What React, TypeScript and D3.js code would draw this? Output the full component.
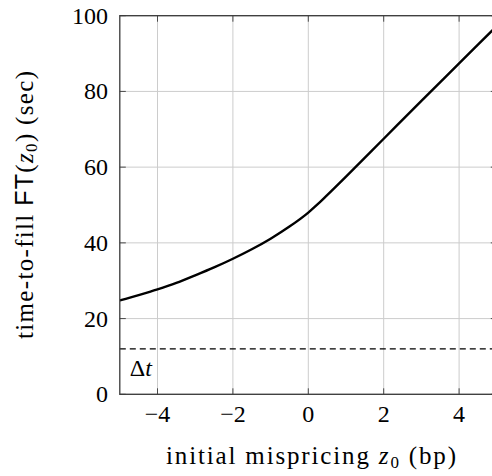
import React from "react";
import * as d3 from "d3";

const xValues = [-5, -4.5, -4, -3.5, -3, -2.5, -2, -1.5, -1, -0.5, 0, 0.25, 0.5, 1, 2, 3, 4, 5];
const ftValues = [24.8, 26.2, 27.7, 29.4, 31.4, 33.5, 35.8, 38.3, 41.1, 44.3, 48.0, 50.2, 52.6, 57.5, 67.5, 77.5, 87.4, 97.3];
const deltaT = 12;
const xTicks = [-4, -2, 0, 2, 4];
const yTicks = [0, 20, 40, 60, 80, 100];

const W = 492;
const H = 476;
const left = 119.8;
const right = 496.8;
const top = 15.7;
const bottom = 394.3;
const serif = "'Liberation Serif', 'Times New Roman', serif";
const sans = "'Liberation Sans', 'DejaVu Sans', sans-serif";
const FS = 24;
const LFS = 25;
const SUB = 17;

export default function App() {
  const x = d3.scaleLinear().domain([-5, 5]).range([left, right]);
  const y = d3.scaleLinear().domain([0, 100]).range([bottom, top]);
  const pts: [number, number][] = xValues.map((v, i) => [v, ftValues[i]]);
  const line = d3
    .line<[number, number]>()
    .x((d) => x(d[0]))
    .y((d) => y(d[1]))
    .curve(d3.curveMonotoneX);
  const tickLen = 6;
  const grid = "#cccccc";
  const axisC = "#3a3a3a";
  return (
    <svg
      width={W}
      height={H}
      style={{ position: "absolute", left: 0, top: 0, background: "#fff" }}
      fontFamily={serif}
    >
      <defs>
        <clipPath id="plot">
          <rect x={left} y={top} width={right - left} height={bottom - top} />
        </clipPath>
      </defs>
      {xTicks.map((t) => (
        <line key={"gx" + t} x1={x(t)} x2={x(t)} y1={top} y2={bottom} stroke={grid} strokeWidth={1} />
      ))}
      {yTicks.map((t) => (
        <line key={"gy" + t} x1={left} x2={right} y1={y(t)} y2={y(t)} stroke={grid} strokeWidth={1} />
      ))}
      {xTicks.map((t) => (
        <g key={"tx" + t}>
          <line x1={x(t)} x2={x(t)} y1={bottom} y2={bottom - tickLen} stroke={axisC} strokeWidth={0.9} />
          <line x1={x(t)} x2={x(t)} y1={top} y2={top + tickLen} stroke={axisC} strokeWidth={0.9} />
        </g>
      ))}
      {yTicks.map((t) => (
        <g key={"ty" + t}>
          <line x1={left} x2={left + tickLen} y1={y(t)} y2={y(t)} stroke={axisC} strokeWidth={0.9} />
          <line x1={right} x2={right - tickLen} y1={y(t)} y2={y(t)} stroke={axisC} strokeWidth={0.9} />
        </g>
      ))}
      <line
        x1={left}
        x2={right}
        y1={y(deltaT)}
        y2={y(deltaT)}
        stroke="#000"
        strokeWidth={1.2}
        strokeDasharray="6 4"
      />
      <text x={left + 10} y={y(deltaT) + 27} fontSize={FS} fill="#000">
        Δ<tspan fontStyle="italic">t</tspan>
      </text>
      <path d={line(pts) || ""} fill="none" stroke="#000" strokeWidth={2.4} clipPath="url(#plot)" />
      <rect x={left} y={top} width={right - left} height={bottom - top} fill="none" stroke={axisC} strokeWidth={1.3} />
      {xTicks.map((t) => (
        <text key={"lx" + t} x={x(t)} y={422} fontSize={FS} textAnchor="middle" fill="#000">
          {t < 0 ? "\u2212" + Math.abs(t) : String(t)}
        </text>
      ))}
      {yTicks.map((t) => (
        <text key={"ly" + t} x={108} y={y(t) + 8} fontSize={FS} textAnchor="end" fill="#000">
          {t}
        </text>
      ))}
      <text
        x={311}
        y={464}
        fontSize={LFS}
        textAnchor="middle"
        fill="#000"
        textLength={290}
        lengthAdjust="spacing"
      >
        initial mispricing <tspan fontStyle="italic">z</tspan>
        <tspan fontSize={SUB} dy={4}>0</tspan>
        <tspan dy={-4}> (bp)</tspan>
      </text>
      <text
        transform={`translate(33, ${(top + bottom) / 2}) rotate(-90)`}
        fontSize={LFS}
        textAnchor="middle"
        fill="#000"
        textLength={268}
        lengthAdjust="spacing"
      >
        time-to-fill <tspan fontFamily={sans}>FT</tspan>(<tspan fontStyle="italic">z</tspan>
        <tspan fontSize={SUB} dy={4}>0</tspan>
        <tspan dy={-4}>) (sec)</tspan>
      </text>
    </svg>
  );
}
